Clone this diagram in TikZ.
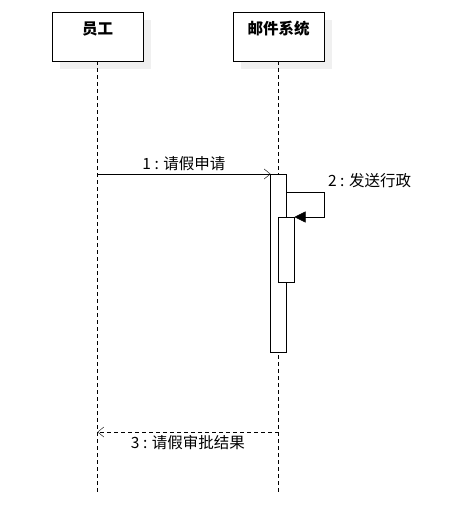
\documentclass[tikz,border=0pt]{standalone}
\usepackage{fontspec}
\setmainfont{Noto Sans CJK SC}
\usetikzlibrary{positioning,shadows,arrows.meta}

\begin{document}
\begin{tikzpicture}[
        x = 1pt, y = -1pt,
        font = \fontsize{15.5}{18}\selectfont,
        head/.style = {
            draw, fill=white, outer sep=0pt,
            minimum width=91pt, minimum height=49pt,
            inner ysep=5pt, text height=17pt, text depth=22pt,
            font=\fontsize{15.5}{18}\selectfont\bfseries,
            drop shadow={shadow xshift=8pt, shadow yshift=-8pt,
                fill=black!6, opacity=1}},
        act/.style = {draw, fill=white, outer sep=0pt, minimum width=16pt},
        life/.style = {dash pattern=on 4pt off 3pt},
        call/.style = {-{Straight Barb[length=6pt,width=10pt]}},
        back/.style = {dash pattern=on 4pt off 3pt,
            -{Straight Barb[length=6pt,width=10pt]}},
        self/.style = {-{Triangle[length=11pt,width=11pt]}},
]
    \useasboundingbox (0,0) rectangle (461,514);
    % lifeline heads
    \node[head] (emp) at (97.5,36.5) {员工};
    \node[head] (mail) [right=90pt of emp] {邮件系统};
    \coordinate (empend) at (emp.south |- 0,493);
    \coordinate (mailend) at (mail.south |- 0,493);
    \draw [life] (emp) -- (empend);
    \draw [life] (mail) -- (mailend);
    % activations
    \node[act, minimum height=178pt, anchor=north] (mailact) at (mail.south |- 0,174) {};
    \node[act, minimum height=65pt, anchor=north west] (mailsub) at (mailact.north |- 0,217) {};
    % messages
    \coordinate (m1) at (emp.south |- 0,174);
    \draw [call] (m1) -- (mailact.north west) node[midway,above]{1 : 请假申请};
    \draw [self] (mailact.east |- 0,192) -- ++(38,0)
        node[anchor=south west,yshift=1pt]{2 : 发送行政} |- (mailsub.north east);
    \coordinate (m3a) at (mail.south |- 0,432);
    \coordinate (m3b) at (emp.south |- 0,432);
    \draw [back] (m3a) -- (m3b) node[midway,below]{3 : 请假审批结果};
\end{tikzpicture}
\end{document}
